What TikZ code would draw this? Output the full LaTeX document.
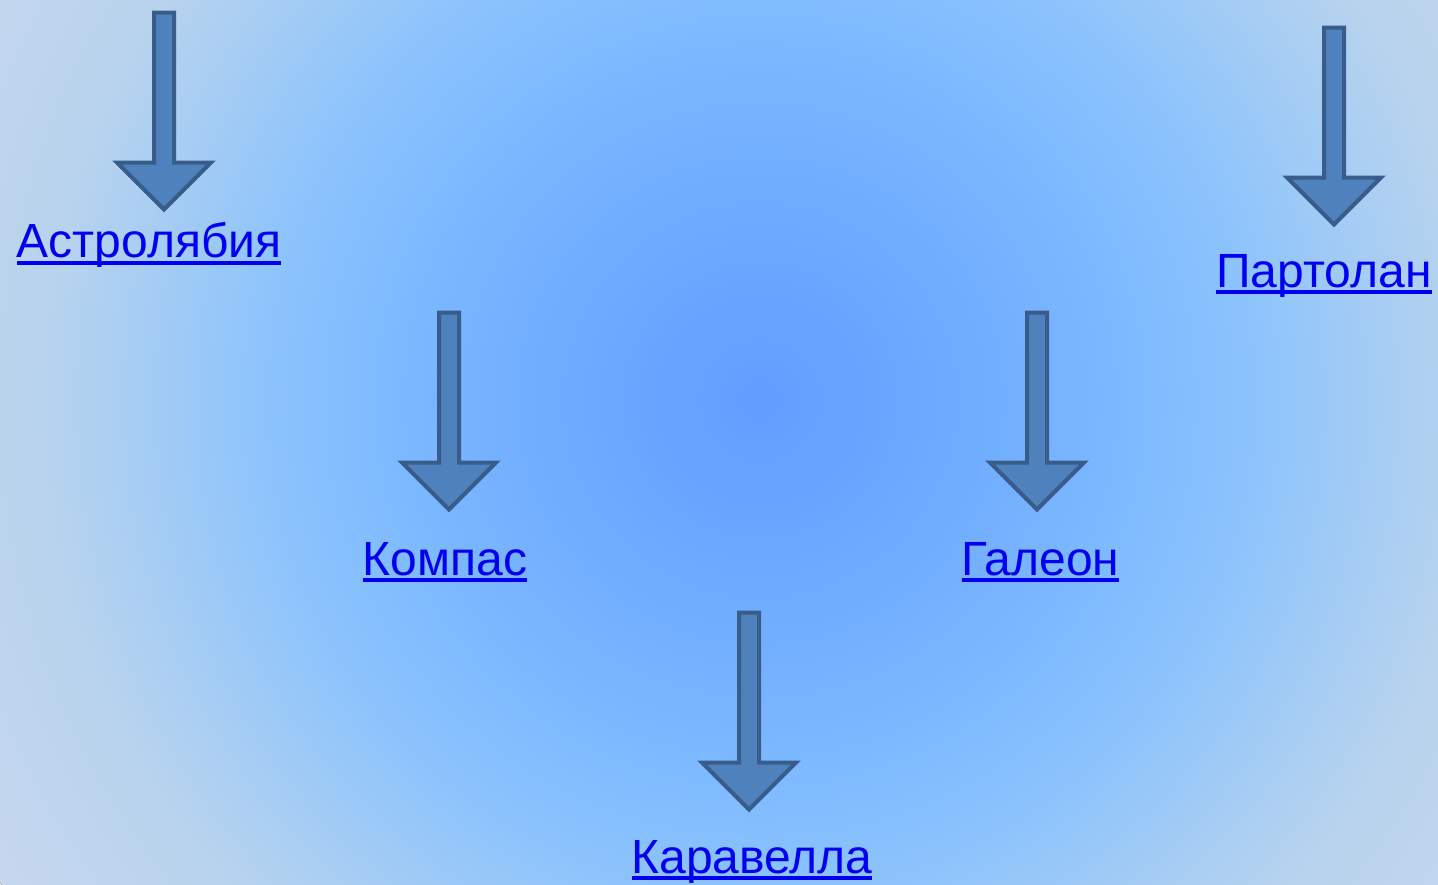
\documentclass[tikz,border=0pt]{standalone}
\usepackage{fontspec}
\setmainfont{Liberation Sans}
\usetikzlibrary{shapes.arrows}

\definecolor{arrowfill}{HTML}{4F81BD}
\definecolor{arrowline}{HTML}{385D8A}
\definecolor{linkblue}{HTML}{0000F0}
\definecolor{bgA}{HTML}{629EFF}
\definecolor{bgB}{HTML}{68A4FF}
\definecolor{bgC}{HTML}{76B2FF}
\definecolor{bgD}{HTML}{80BCFF}
\definecolor{bgE}{HTML}{8EC4FC}
\definecolor{bgF}{HTML}{A4CCF4}
\definecolor{bgG}{HTML}{B8D3EE}
\definecolor{bgH}{HTML}{C6D7EE}

\pgfdeclareradialshading{seaglow}{\pgfpoint{0bp}{0bp}}{color(0bp)=(bgA); color(2.8bp)=(bgB); color(8bp)=(bgC); color(11.1bp)=(bgD); color(14bp)=(bgE); color(17bp)=(bgF); color(20bp)=(bgG); color(25bp)=(bgH); color(50bp)=(bgH)}

\newcommand\hlink[1]{\vtop{\setbox0\hbox{#1}\dp0=0pt\box0\kern3pt\hrule height4pt}}

\tikzset{
  downarrow/.style={single arrow, draw=arrowline, fill=arrowfill, line width=4pt,
    inner sep=0pt, inner ysep=8pt, minimum width=0pt, minimum height=197pt,
    single arrow head extend=37pt, single arrow head indent=0pt,
    rotate=-90, anchor=tail},
  linktext/.style={text=linkblue, inner sep=0pt, anchor=base,
    font=\fontsize{48}{58}\selectfont}
}

\begin{document}
\begin{tikzpicture}[x=1pt,y=-1pt]
    \useasboundingbox (0,0) rectangle (1438,884);
    \begin{scope}
        \clip (0,0) rectangle (1438,884);
        \fill[shading=seaglow] (760,400) circle (900pt);
    \end{scope}

    % arrows
    \node[downarrow] (astroarrow) at (164,10.5) {};
    \node[downarrow] (partarrow) at (1334,25.5) {};
    \node[downarrow] (kompasarrow) at (449,310.5) {};
    \node[downarrow] (galeonarrow) at (1037,310.5) {};
    \node[downarrow] (karaarrow) at (749,610.5) {};

    % labels
    \node[linktext] (astro) at (149,257.5) {\hlink{Астролябия}};
    \node[linktext] (part) at (1324,287) {\hlink{Партолан}};
    \node[linktext] (kompas) at (445,575) {\hlink{Компас}};
    \node[linktext] (galeon) at (1040.5,575) {\hlink{Галеон}};
    \node[linktext] (kara) at (752,873) {\hlink{Каравелла}};
\end{tikzpicture}
\end{document}
